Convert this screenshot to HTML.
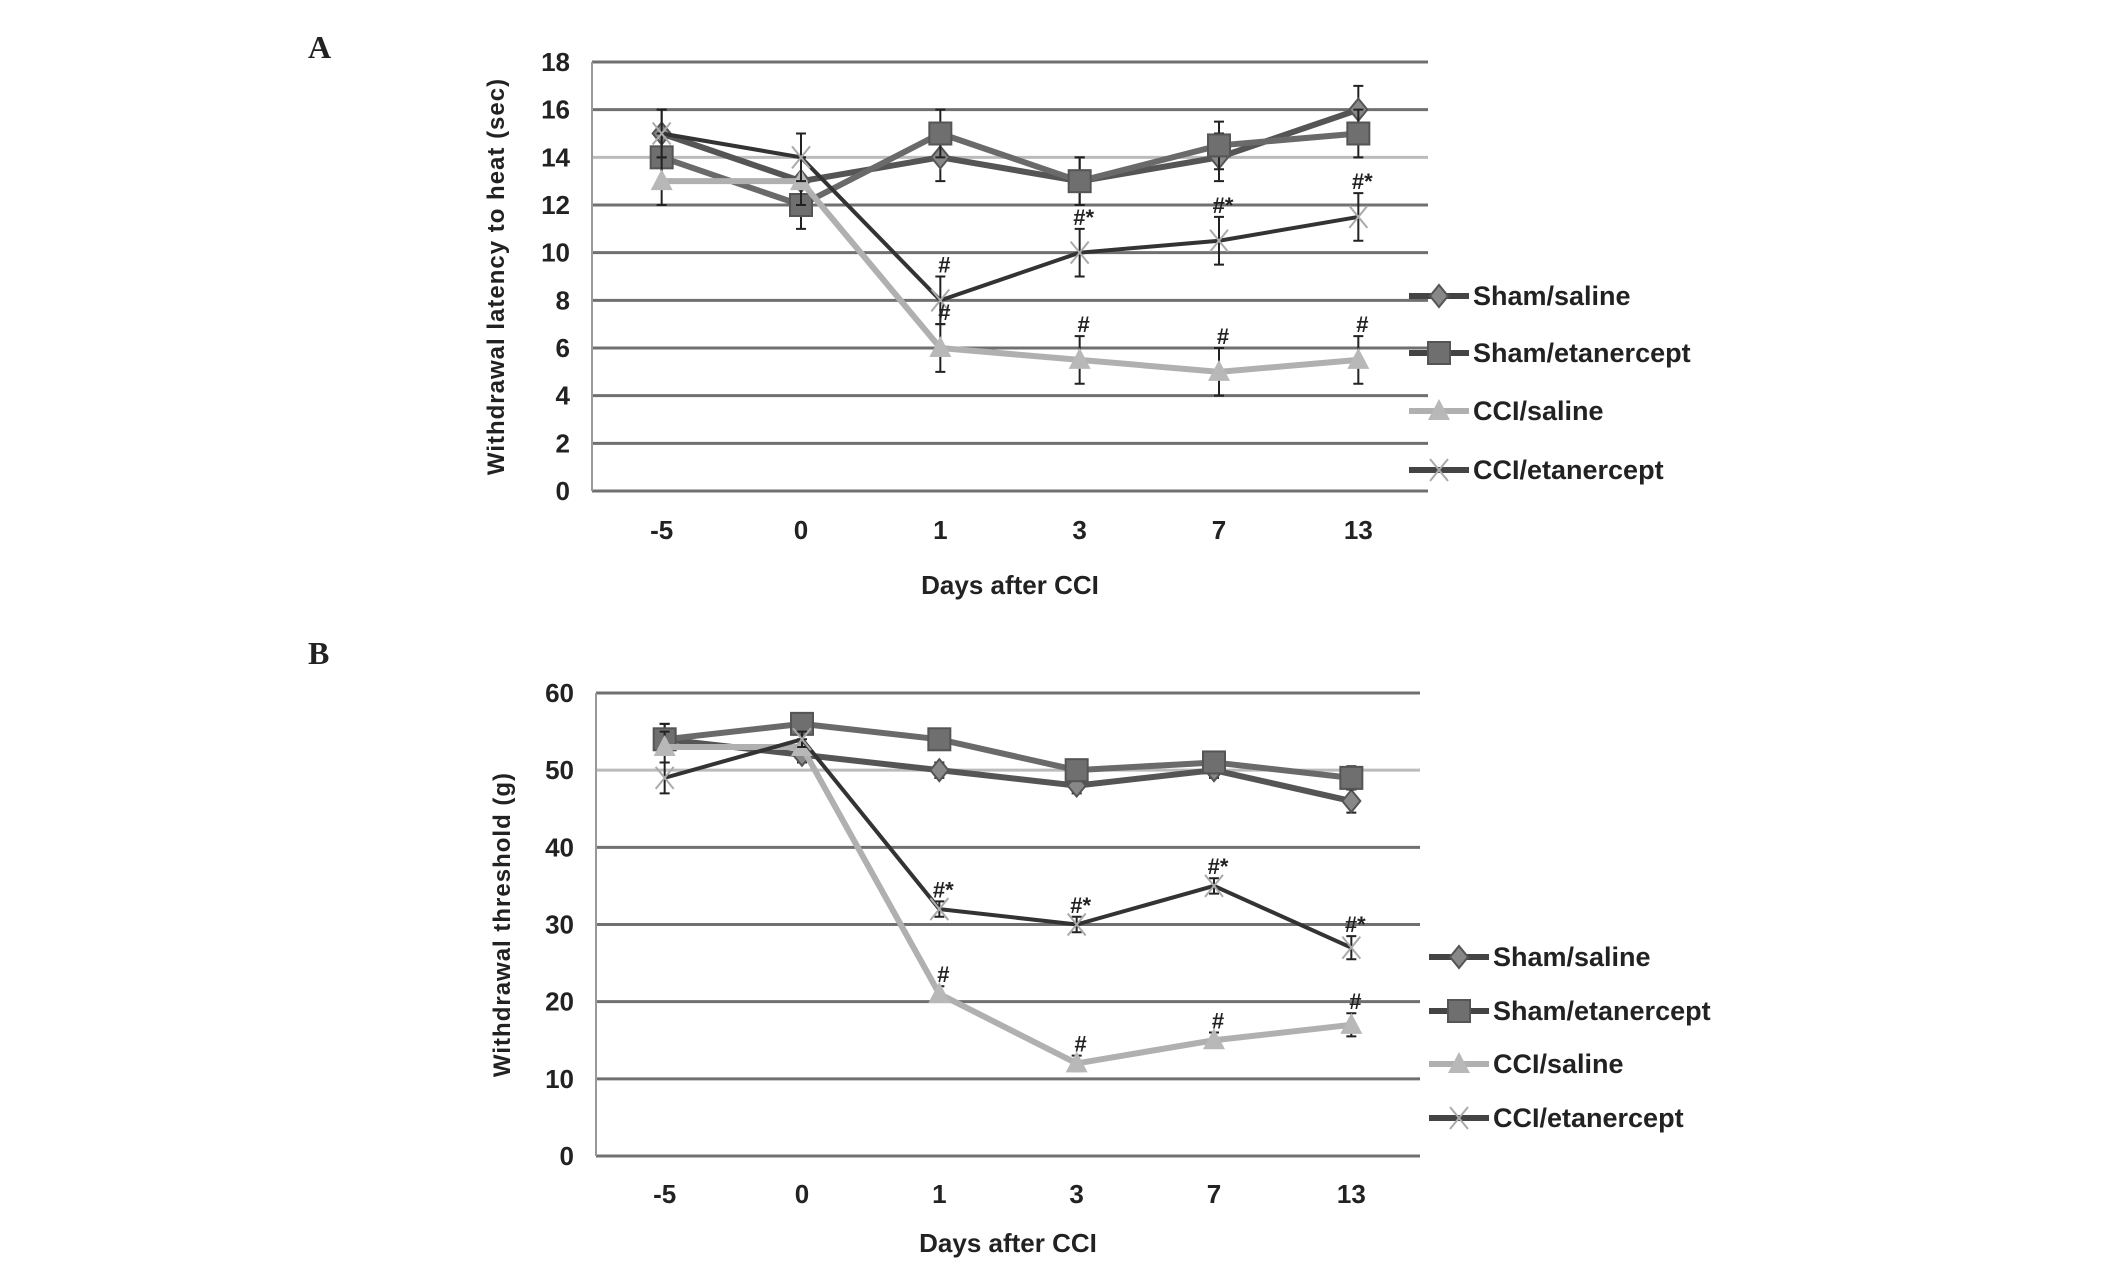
<!DOCTYPE html>
<html><head><meta charset="utf-8"><style>
html,body{margin:0;padding:0;background:#fff;}
svg{display:block;}
text{font-family:"Liberation Sans Narrow","Liberation Sans",sans-serif;font-weight:bold;fill:#222;}
</style></head><body>
<svg id="fig" width="2126" height="1276" viewBox="0 0 2126 1276" xmlns="http://www.w3.org/2000/svg">
<rect width="2126" height="1276" fill="#fff"/>
<text x="308" y="58" style="font-family:'Liberation Serif',serif;font-size:32px">A</text>
<text x="308" y="664" style="font-family:'Liberation Serif',serif;font-size:32px">B</text>
</svg>
<script>
const categories = ["-5","0","1","3","7","13"];
const seriesNames = ["Sham/saline","Sham/etanercept","CCI/saline","CCI/etanercept"];
// Panel A values
const aShamSaline = [15,13,14,13,14,16];
const aShamEtan = [14,12,15,13,14.5,15];
const aCciSaline = [13,13,6,5.5,5,5.5];
const aCciEtan = [15,14,8,10,10.5,11.5];
const aErr = [1,1,1,1,1,1];
const aTicks = [0,2,4,6,8,10,12,14,16,18];
const aAnnot = ["","","#","#*","#*","#*"];
const aAnnotSaline = ["","","#","#","#","#"];
// Panel B values
const bShamSaline = [54,52,50,48,50,46];
const bShamEtan = [54,56,54,50,51,49];
const bCciSaline = [53,53,21,12,15,17];
const bCciEtan = [49,54,32,30,35,27];
const bErr = [2,1,1,1,1,1.5];
const bTicks = [0,10,20,30,40,50,60];
const bAnnot = ["","","#*","#*","#*","#*"];
const bAnnotSaline = ["","","#","#","#","#"];

const NS="http://www.w3.org/2000/svg";
const svg=document.getElementById('fig');
function mk(tag,attrs,parent){const e=document.createElementNS(NS,tag);for(const k in attrs)e.setAttribute(k,attrs[k]);(parent||svg).appendChild(e);return e;}
const colors=["#555","#6a6a6a","#b0b0b0","#333"];
const marks=["diamond","square","triangle","x"];

function marker(g,type,x,y,c){
  let e;
  if(type==="diamond") e=mk('polygon',{points:`${x},${y-11} ${x+9},${y} ${x},${y+11} ${x-9},${y}`,fill:"#888",stroke:c,'stroke-width':2},g);
  else if(type==="square") e=mk('rect',{x:x-11,y:y-11,width:22,height:22,fill:"#6f6f6f",stroke:"#555",'stroke-width':2},g);
  else if(type==="triangle") e=mk('polygon',{points:`${x},${y-12} ${x+11},${y+9} ${x-11},${y+9}`,fill:"#b8b8b8"},g);
  else e=mk('path',{d:`M${x-9} ${y-11}L${x+9} ${y+11}M${x+9} ${y-11}L${x-9} ${y+11}`,stroke:"#aaa",'stroke-width':2,fill:"none"},g);
  return e;
}

function panel(cfg){
  const {id,left,right,top,bottom,ticks,series,err,annot,annotSal,ytitle,ytx,xlabY,xtitleY,legX,legYs}=cfg;
  const ymax=ticks[ticks.length-1];
  const band=(right-left)/categories.length;
  const xs=i=>left+band*(i+0.5);
  const ys=v=>bottom-(v/ymax)*(bottom-top);
  const g=mk('g',{});
  
  
  ticks.forEach((t,i)=>{
    const light=(id==="panel-a"&&t===14)||(id==="panel-b"&&t===50);
    const l=mk('line',{x1:left,x2:right,y1:ys(t),y2:ys(t),stroke:light?"#bbb":"#707070",'stroke-width':3},g);
    
    
    const tx=mk('text',{x:left-22,y:ys(t)+9,'text-anchor':'end','font-size':26},g);
    tx.textContent=t;
    
    
  });
  const ax=mk('line',{x1:left,x2:left,y1:top,y2:bottom,stroke:"#999",'stroke-width':2},g);
  
  
  categories.forEach((c,i)=>{
    const tx=mk('text',{x:xs(i),y:xlabY,'text-anchor':'middle','font-size':26},g);
    tx.textContent=c;
    
    
  });
  const xt=mk('text',{x:(left+right)/2,y:xtitleY,'text-anchor':'middle','font-size':26},g);
  xt.textContent="Days after CCI";
  
  
  const cy=(top+bottom)/2;
  const yt=mk('text',{x:ytx,y:cy,'text-anchor':'middle','font-size':24,transform:`rotate(-90 ${ytx} ${cy})`,style:"font-family:'Liberation Sans',sans-serif;letter-spacing:1px"},g);
  yt.textContent=ytitle;
  
  
  series.forEach((vals,s)=>{
    const sg=mk('g',{},g);
    
    
    vals.forEach((v,i)=>{
      const x=xs(i),e=err[i];
      const eb=mk('path',{d:`M${x} ${ys(v+e)}L${x} ${ys(v-e)}M${x-5} ${ys(v+e)}L${x+5} ${ys(v+e)}M${x-5} ${ys(v-e)}L${x+5} ${ys(v-e)}`,stroke:"#222",'stroke-width':2,fill:'none'},sg);
      
      
    });
    const pl=mk('polyline',{points:vals.map((v,i)=>xs(i)+','+ys(v)).join(' '),fill:'none',stroke:colors[s],'stroke-width':s===3?4:6},sg);
    
    
    vals.forEach((v,i)=>{
      const m=marker(sg,marks[s],xs(i),ys(v),colors[s]);
      
      
    });
  });
  const etan=series[3],sal=series[2];
  annot.forEach((a,i)=>{ if(!a)return;
    const t=mk('text',{x:xs(i)+4,y:ys(etan[i]+err[i])-4,'text-anchor':'middle','font-size':22},g);
    t.textContent=a;
    
    
  });
  annotSal.forEach((a,i)=>{ if(!a)return;
    const t=mk('text',{x:xs(i)+4,y:ys(sal[i]+err[i])-4,'text-anchor':'middle','font-size':22},g);
    t.textContent=a;
    
    
  });
  seriesNames.forEach((n,s)=>{
    const lg=mk('g',{},g);
    
    
    const y=legYs[s];
    mk('line',{x1:legX,x2:legX+60,y1:y,y2:y,stroke:s===2?"#b0b0b0":"#444",'stroke-width':6},lg);
    marker(lg,marks[s],legX+30,y,colors[s]);
    const t=mk('text',{x:legX+64,y:y+9,'font-size':27},lg);
    t.textContent=n;
  });
}

panel({id:"panel-a",left:592,right:1428,top:62,bottom:491,ticks:aTicks,
  series:[aShamSaline,aShamEtan,aCciSaline,aCciEtan],err:aErr,annot:aAnnot,annotSal:aAnnotSaline,
  ytitle:"Withdrawal latency to heat (sec)",ytx:504,xlabY:539,xtitleY:594,legX:1409,legYs:[296,353,411,470]});
panel({id:"panel-b",left:596,right:1420,top:693,bottom:1156,ticks:bTicks,
  series:[bShamSaline,bShamEtan,bCciSaline,bCciEtan],err:bErr,annot:bAnnot,annotSal:bAnnotSaline,
  ytitle:"Withdrawal threshold (g)",ytx:510,xlabY:1203,xtitleY:1252,legX:1429,legYs:[957,1011,1064,1118]});
</script>
</body></html>
